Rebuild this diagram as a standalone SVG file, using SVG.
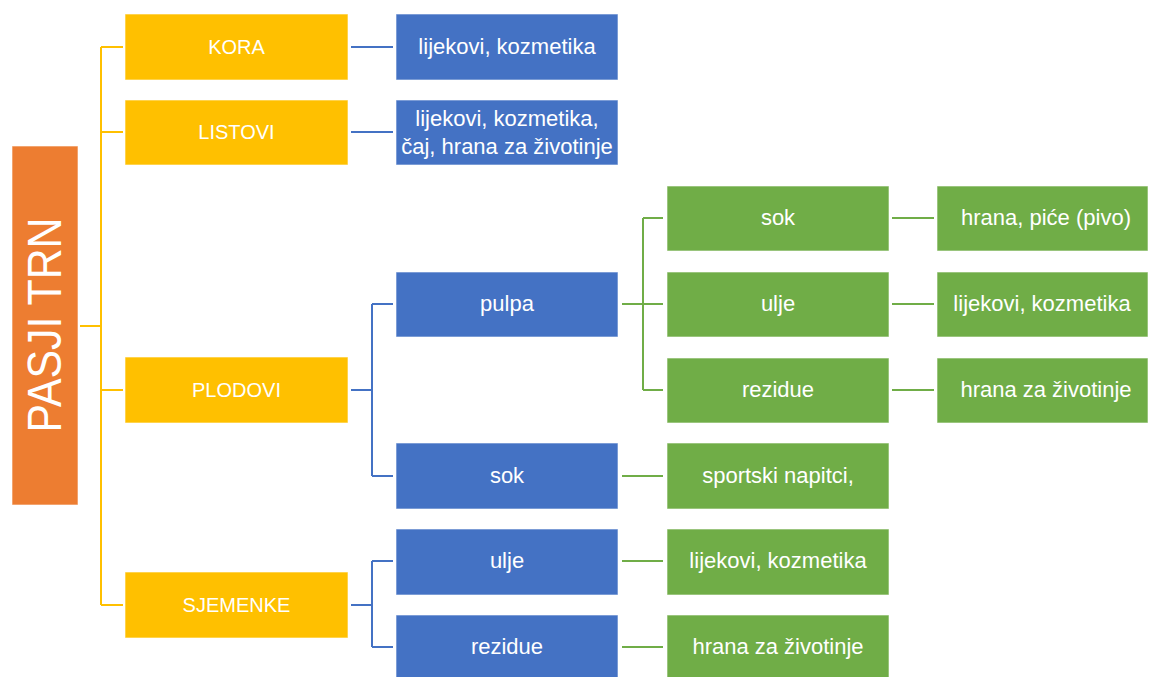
<svg xmlns="http://www.w3.org/2000/svg" width="1151" height="677" viewBox="0 0 1151 677">
<style>
.n{stroke:#ffffff;stroke-width:1;stroke-opacity:0.6}
.o{fill:#ED7D31}.y{fill:#FFC000}.b{fill:#4472C4}.g{fill:#70AD47}
text{font-family:"Liberation Sans",Arial,sans-serif;font-size:22px;fill:#ffffff;text-anchor:middle}
.u{font-size:20px}
.cy{stroke:#FFC000;stroke-width:2;fill:none}
.cb{stroke:#4472C4;stroke-width:2;fill:none}
.cg{stroke:#70AD47;stroke-width:2;fill:none}
</style>
<rect width="1151" height="677" fill="#ffffff"/>
<g id="connectors">
<path class="cy" d="M80,326H101M101,47V605M101,47H123M101,132H123M101,390H123M101,605H123"/>
<path class="cb" d="M351,47H393M351,132H393M351,390H372M372,304V476M372,304H393M372,476H393M351,605H372M372,561V647M372,561H393M372,647H393"/>
<path class="cg" d="M622,304H643M643,218V390M643,218H663M643,304H663M643,390H663M622,476H663M622,561H663M622,647H663M892,218H934M892,304H934M892,390H934"/>
</g>
<g id="root"><rect class="n o" x="12" y="146" width="66" height="359"/><text transform="translate(61,325) rotate(-90)" style="font-size:48px" textLength="215" lengthAdjust="spacingAndGlyphs">PASJI TRN</text></g>
<g id="kora"><rect class="n y" x="125" y="14" width="223" height="66"/><text class="u" x="236.5" y="54">KORA</text></g>
<g id="listovi"><rect class="n y" x="125" y="100" width="223" height="65"/><text class="u" x="236.5" y="139">LISTOVI</text></g>
<g id="plodovi"><rect class="n y" x="125" y="357" width="223" height="66"/><text class="u" x="236.5" y="397">PLODOVI</text></g>
<g id="sjemenke"><rect class="n y" x="125" y="572" width="223" height="66"/><text class="u" x="236.5" y="612">SJEMENKE</text></g>
<g id="kora-use"><rect class="n b" x="396" y="14" width="222" height="66"/><text x="507" y="54">lijekovi, kozmetika</text></g>
<g id="listovi-use"><rect class="n b" x="396" y="100" width="222" height="65"/><text x="507" y="126">lijekovi, kozmetika,</text><text x="507" y="154">čaj, hrana za životinje</text></g>
<g id="pulpa"><rect class="n b" x="396" y="272" width="222" height="65"/><text x="507" y="311">pulpa</text></g>
<g id="sok1"><rect class="n b" x="396" y="443" width="222" height="66"/><text x="507" y="483">sok</text></g>
<g id="ulje1"><rect class="n b" x="396" y="529" width="222" height="66"/><text x="507" y="568">ulje</text></g>
<g id="rezidue1"><rect class="n b" x="396" y="615" width="222" height="66"/><text x="507" y="654">rezidue</text></g>
<g id="sok2"><rect class="n g" x="667" y="186" width="222" height="65"/><text x="778" y="225">sok</text></g>
<g id="ulje2"><rect class="n g" x="667" y="272" width="222" height="65"/><text x="778" y="311">ulje</text></g>
<g id="rezidue2"><rect class="n g" x="667" y="358" width="222" height="65"/><text x="778" y="397">rezidue</text></g>
<g id="sportski"><rect class="n g" x="667" y="443" width="222" height="66"/><text x="778" y="483">sportski napitci,</text></g>
<g id="ulje1-use"><rect class="n g" x="667" y="529" width="222" height="66"/><text x="778" y="568">lijekovi, kozmetika</text></g>
<g id="rezidue1-use"><rect class="n g" x="667" y="615" width="222" height="66"/><text x="778" y="654">hrana za životinje</text></g>
<g id="sok2-use"><rect class="n g" x="937" y="186" width="211" height="65"/><text x="1046" y="225">hrana, piće (pivo)</text></g>
<g id="ulje2-use"><rect class="n g" x="937" y="272" width="211" height="65"/><text x="1042" y="311">lijekovi, kozmetika</text></g>
<g id="rezidue2-use"><rect class="n g" x="937" y="358" width="211" height="65"/><text x="1046" y="397">hrana za životinje</text></g>
</svg>
